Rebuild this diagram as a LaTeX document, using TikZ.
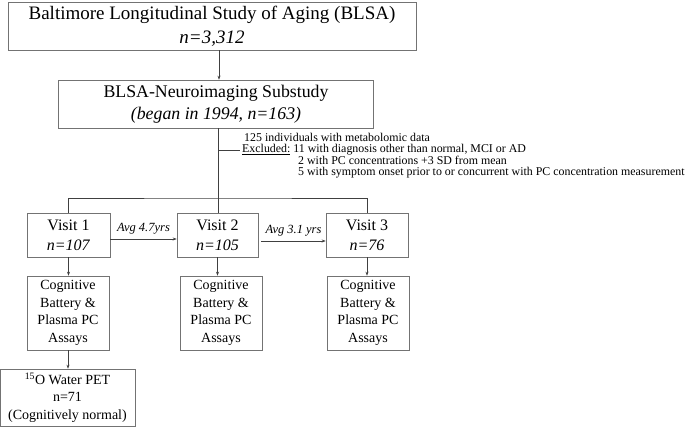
\documentclass[tikz,border=0pt]{standalone}
\usepackage{fontspec}
\setmainfont{Liberation Serif}
\usetikzlibrary{arrows.meta}
\begin{document}
\begin{tikzpicture}[x=1pt,y=-1pt,
  box/.style={draw=black!55, line width=0.6pt, fill=white, align=center, inner sep=0pt},
  conn/.style={draw=black!75, line width=0.6pt},
  arr/.style={conn, -{Stealth[length=4pt,width=3pt]}},
  small/.style={font=\fontsize{11.9}{12}\selectfont, anchor=west, inner sep=0pt, text height=8pt, text depth=2pt}]
\useasboundingbox (0,0) rectangle (690,426);
% boxes
\node[box, minimum width=408pt, minimum height=48pt, font=\fontsize{19}{24}\selectfont] (blsa) at (212,26)
  {Baltimore Longitudinal Study of Aging (BLSA)\\ \textit{n=3,312}};
\node[box, minimum width=315pt, minimum height=48pt, font=\fontsize{17.8}{22}\selectfont] (neuro) at (216,104)
  {BLSA-Neuroimaging Substudy\\ \textit{(began in 1994, n=163)}};
\node[box, minimum width=83pt, minimum height=44pt, font=\fontsize{16}{20}\selectfont] (v1) at (68.5,235)
  {Visit 1\\ \textit{n=107}};
\node[box, minimum width=81pt, minimum height=44pt, font=\fontsize{16}{20}\selectfont] (v2) at (217.5,235)
  {Visit 2\\ \textit{n=105}};
\node[box, minimum width=82pt, minimum height=44pt, font=\fontsize{16}{20}\selectfont] (v3) at (367,235)
  {Visit 3\\ \textit{n=76}};
\node[box, minimum width=82pt, minimum height=74pt, font=\fontsize{14}{17.5}\selectfont] (c1) at (68,313)
  {Cognitive\\ Battery \&\\ Plasma PC\\ Assays};
\node[box, minimum width=82pt, minimum height=74pt, font=\fontsize{14}{17.5}\selectfont] (c2) at (221,313)
  {Cognitive\\ Battery \&\\ Plasma PC\\ Assays};
\node[box, minimum width=82pt, minimum height=74pt, font=\fontsize{14}{17.5}\selectfont] (c3) at (368,313)
  {Cognitive\\ Battery \&\\ Plasma PC\\ Assays};
\node[box, minimum width=135pt, minimum height=57pt, font=\fontsize{14}{17.5}\selectfont] (pet) at (67.5,397.5)
  {\textsuperscript{15}O Water PET\\ n=71\\ (Cognitively normal)};
% connectors
\draw[arr] (blsa.south -| 219,0) -- (neuro.north -| 219,0);
\coordinate (split) at (218,198);
\coordinate (tick) at (218,150);
\coordinate (tickend) at (240,150);
\draw[conn] (neuro.south -| split) -- (split);
\draw[conn] (tick) -- (tickend);
\draw[conn] (split) -- (v2.north -| split);
\draw[conn] (v1.north) |- (split) -| (v3.north);
\draw[arr] (v1.east |- 0,239) -- node[above=1pt, font=\fontsize{12.5}{14}\selectfont\itshape] {Avg 4.7yrs} (v2.west |- 0,239);
\draw[arr] ([xshift=3pt]v2.east |- 0,241) -- node[above=1pt, font=\fontsize{12.5}{14}\selectfont\itshape] {Avg 3.1 yrs} (v3.west |- 0,241);
\draw[arr] (v1.south) -- (c1.north -| v1.south);
\draw[arr] (v2.south) -- (c2.north -| v2.south);
\draw[arr] (v3.south) -- (c3.north -| v3.south);
\draw[arr] (c1.south) -- (pet.north -| c1.south);
% side text
\node[small] (t1) at (244,138) {125 individuals with metabolomic data};
\node[small] (t2) at (242,149.5) {\underline{Excluded:} 11 with diagnosis other than normal, MCI or AD};
\node[small] (t3) at (298,161) {2 with PC concentrations +3 SD from mean};
\node[small] (t4) at (298,172.5) {5 with symptom onset prior to or concurrent with PC concentration measurement};
\end{tikzpicture}
\end{document}
